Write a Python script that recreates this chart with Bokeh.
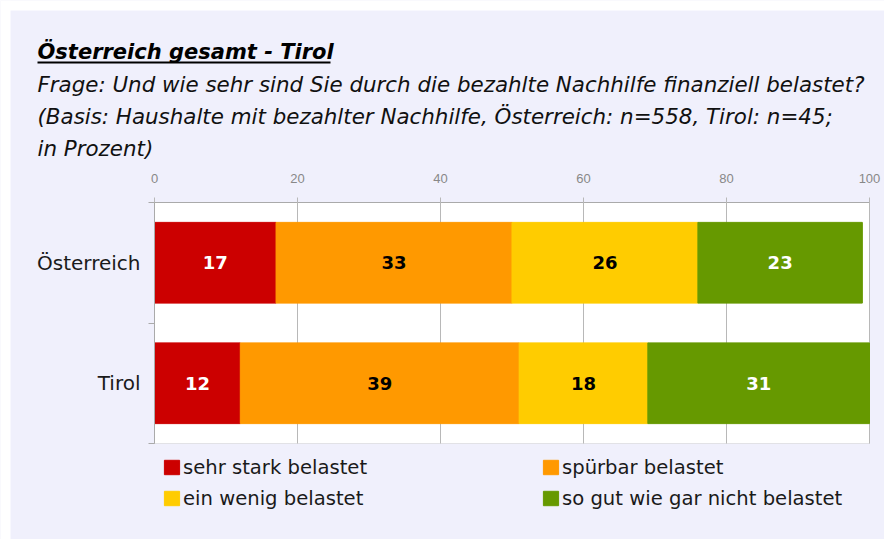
import numpy as np
from bokeh.plotting import figure
from bokeh.models import (ColumnDataSource, Range1d, LinearAxis,
                          FixedTicker, Label, Legend, LegendItem, BoxAnnotation)
from bokeh.core.properties import value
from bokeh.embed import file_html
from bokeh.resources import INLINE

# ---- data ----
categories = ["Österreich", "Tirol"]
series_labels = ["sehr stark belastet", "spürbar belastet", "ein wenig belastet",
                 "so gut wie gar nicht belastet"]
sehr_stark = [17, 12]
spuerbar = [33, 39]
ein_wenig = [26, 18]
gar_nicht = [23, 31]
x_ticks = [0, 20, 40, 60, 80, 100]

title_text = "Österreich gesamt - Tirol"
subtitle_lines = [
    "Frage: Und wie sehr sind Sie durch die bezahlte Nachhilfe finanziell belastet?",
    "(Basis: Haushalte mit bezahlter Nachhilfe, Österreich: n=558, Tirol: n=45;",
    "in Prozent)",
]

# ---- styles / layout (pixels) ----
colors = ["#CC0000", "#FF9900", "#FFCC00", "#669900"]
label_colors = ["#ffffff", "#000000", "#000000", "#ffffff"]
lavender = "#F0F0FC"
grid_gray = "#b8b8b8"
axis_gray = "#aaaaaa"

W, H = 884, 539
PL, PR, PT, PB = 154, 869, 202, 443   # plot-area edges on the page
X0, X1 = 0, 100
n = len(categories)

xs = (PR - PL) / (X1 - X0)
ys = (PB - PT) / n
def px2x(px): return X0 + (px - PL) / xs
def py2y(py): return (PB - py) / ys

ypos = [n - 0.5 - j for j in range(n)]  # first category on top
keys = ["s0", "s1", "s2", "s3"]
series_vals = [sehr_stark, spuerbar, ein_wenig, gar_nicht]
src = ColumnDataSource(dict(y=ypos, **{k: v for k, v in zip(keys, series_vals)}))

p = figure(width=W, height=H, output_backend="svg", toolbar_location=None,
           x_range=Range1d(px2x(0), px2x(W)), y_range=Range1d(py2y(H), py2y(0)),
           x_axis_location="above", y_axis_location=None,
           min_border=0, min_border_left=0, min_border_right=0,
           min_border_top=0, min_border_bottom=0)
p.background_fill_color = lavender
p.border_fill_color = lavender
p.outline_line_color = None

# white outer strips (top / left) and white plot area
p.add_layout(BoxAnnotation(left=px2x(0), right=px2x(10), bottom=py2y(H), top=py2y(0),
                           fill_color="white", fill_alpha=1, line_color=None, level="image"))
p.add_layout(BoxAnnotation(left=px2x(0), right=px2x(W), bottom=py2y(10), top=py2y(0),
                           fill_color="white", fill_alpha=1, line_color=None, level="image"))
p.add_layout(BoxAnnotation(left=X0, right=X1, bottom=0, top=n,
                           fill_color="white", fill_alpha=1, line_color="#b0b0b0",
                           line_width=1, level="image"))

p.grid.visible = False

# top x axis, fixed on the plot area's top edge; inner ticks act as vertical grid lines
xa = p.xaxis[0]
xa.fixed_location = n
xa.bounds = (X0, X1)
xa.ticker = FixedTicker(ticks=x_ticks)
xa.major_label_text_font = "Liberation Sans"
xa.major_label_text_font_size = "13px"
xa.major_label_text_color = "#888888"
xa.axis_line_color = axis_gray
xa.major_tick_line_color = grid_gray
xa.major_tick_out = 5
xa.major_tick_in = PB - PT
xa.minor_tick_line_color = None
xa.major_label_standoff = 15
xa.level = "underlay"

# left axis with ticks at category boundaries
bticks = list(range(n + 1))
bax = LinearAxis(ticker=FixedTicker(ticks=bticks), fixed_location=X0, bounds=(0, n),
                 major_label_overrides={t: "" for t in bticks},
                 major_tick_out=6, major_tick_in=0, major_label_standoff=0,
                 axis_line_color=axis_gray, major_tick_line_color=axis_gray,
                 minor_tick_line_color=None, major_label_text_font_size="1px")
p.add_layout(bax, "left")

# category labels
cax = LinearAxis(ticker=FixedTicker(ticks=ypos), fixed_location=X0,
                 major_label_overrides={y: c for y, c in zip(ypos, categories)})
cax.major_tick_line_color = None
cax.major_tick_out = 0
cax.major_tick_in = 0
cax.axis_line_color = None
cax.minor_tick_line_color = None
cax.major_label_text_font = "DejaVu Sans"
cax.major_label_text_font_size = "20px"
cax.major_label_text_color = "#1a1a1a"
cax.major_label_standoff = 14
p.add_layout(cax, "left")

# bars
renderers = p.hbar_stack(keys, y="y", height=0.67, color=colors, source=src)

# bar labels
vals = np.array(series_vals, dtype=float)
ends = vals.cumsum(axis=0)
mids = ends - vals / 2
tx, ty, tt, tc = [], [], [], []
for i in range(len(keys)):
    for j in range(n):
        tx.append(mids[i, j]); ty.append(ypos[j]); tt.append(str(series_vals[i][j])); tc.append(label_colors[i])
tsrc = ColumnDataSource(dict(x=tx, y=ty, t=tt, c=tc))
p.text(x="x", y="y", text="t", text_color="c", source=tsrc,
       text_font=value("DejaVu Sans"), text_font_style="bold", text_font_size="18px",
       text_align="center", text_baseline="middle")

# title block
p.add_layout(Label(x=px2x(37), y=py2y(51), text=title_text,
                   text_font="DejaVu Sans", text_font_style="bold italic", text_font_size="21px",
                   text_color="#000000", text_baseline="alphabetic"))
p.add_layout(BoxAnnotation(left=px2x(37), right=px2x(330), top=py2y(61), bottom=py2y(63),
                           fill_color="#000000", fill_alpha=1, line_color=None))
for k, line in enumerate(subtitle_lines):
    p.add_layout(Label(x=px2x(37), y=py2y(84 + 32 * k), text=line,
                       text_font="DejaVu Sans", text_font_style="italic", text_font_size="21.4px",
                       text_color="#111111", text_baseline="alphabetic"))

# legends (two columns)
def make_legend(idx, px, py_top):
    item_h, gap = 24, 7
    leg_h = len(idx) * item_h + (len(idx) - 1) * gap
    return Legend(items=[LegendItem(label=series_labels[i], renderers=[renderers[i]]) for i in idx],
                  location=(px, H - py_top - leg_h), orientation="vertical",
                  glyph_width=19, glyph_height=18, label_height=item_h, spacing=gap,
                  label_standoff=2, padding=0, margin=0,
                  border_line_color=None, background_fill_alpha=0,
                  label_text_font="DejaVu Sans", label_text_font_size="19.6px",
                  label_text_color="#1a1a1a")

p.add_layout(make_legend([0, 2], 162, 455))
p.add_layout(make_legend([1, 3], 541, 455))

open("out.html", "w").write(file_html(p, INLINE))
